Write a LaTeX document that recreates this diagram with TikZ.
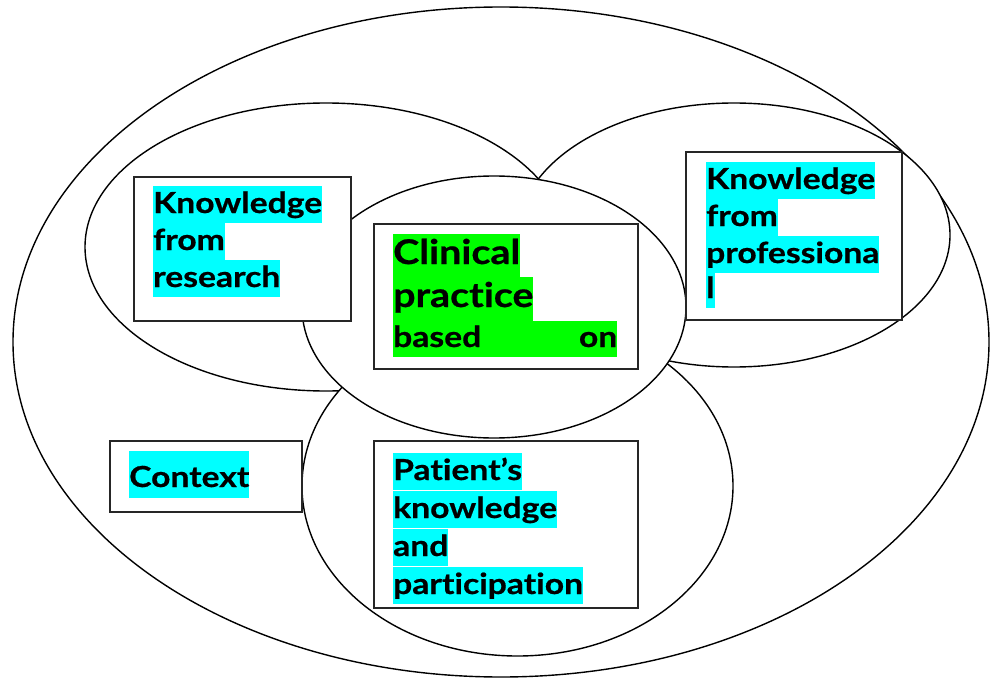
\documentclass[tikz,border=0pt]{standalone}
\usepackage{fontspec}
\setmainfont{Lato}[FakeStretch=1.16, Ligatures=NoCommon, BoldFeatures={FakeBold=0.6}]
\usetikzlibrary{shapes.geometric}
\definecolor{hlcyan}{RGB}{0,255,255}
\definecolor{hlgreen}{RGB}{0,255,0}
\begin{document}
\begin{tikzpicture}[x=1pt,y=-1pt,
  ell/.style={ellipse, draw=black, line width=1.4pt, fill=white, inner sep=0pt},
  box/.style={rectangle, draw=black!85, line width=1.6pt, fill=white, inner sep=0pt, anchor=north west},
  hl/.style={fill=hlcyan, inner sep=0pt, anchor=base west, font=\fontsize{29}{35}\selectfont\bfseries, text height=27pt, text depth=10pt},
  hlg/.style={hl, fill=hlgreen},
  big/.style={font=\fontsize{34}{40}\selectfont\bfseries, text height=30pt, text depth=13pt}
]
\useasboundingbox (0,0) rectangle (990,679);
% ellipses
\node[ell, minimum width=976pt, minimum height=670pt] (outer) at (501,342) {};
\node[ell, minimum width=482pt, minimum height=288pt] (research) at (326,247) {};
\node[ell, minimum width=432pt, minimum height=264pt] (professional) at (734,235) {};
\node[ell, minimum width=431pt, minimum height=340pt] (patient) at (517.5,486) {};
\node[ell, minimum width=384pt, minimum height=262pt] (clinical) at (494,307) {};
% boxes
\node[box, minimum width=217pt, minimum height=144pt] (resbox) at (133,176) {};
\node[box, minimum width=264pt, minimum height=145pt] (clinbox) at (373,223) {};
\node[box, minimum width=216pt, minimum height=168pt] (profbox) at (685,151) {};
\node[box, minimum width=192pt, minimum height=71pt] (ctxbox) at (109,440) {};
\node[box, minimum width=264pt, minimum height=167pt] (patbox) at (373,440) {};
% research text
\node[hl] (r1) at (153,213) {Knowledge};
\node[hl] (r2) at (153,250) {from};
\node[hl] (r3) at (153,287) {research};
% professional text
\node[hl] (p1) at (706,189) {Knowledge};
\node[hl] (p2) at (706,226) {from};
\node[hl] (p3) at (706,263) {professiona};
\node[hl] (p4) at (706,298) {l};
% clinical text
\node[hlg, big] (c1) at (393,264) {Clinical};
\node[hlg, big, text depth=14pt] (c2) at (393,307) {practice};
\node[hlg, text height=26pt] (c3) at (393,347) {\makebox[224pt][s]{based\hfill on}};
% context
\node[hl, text height=36pt, text depth=11pt] (ctx) at (129,487) {Context};
% patient text
\node[hl] (t1) at (393,480) {Patient’s};
\node[hl] (t2) at (393,518) {knowledge};
\node[hl] (t3) at (393,556) {and};
\node[hl] (t4) at (393,594) {participation};
\end{tikzpicture}
\end{document}
